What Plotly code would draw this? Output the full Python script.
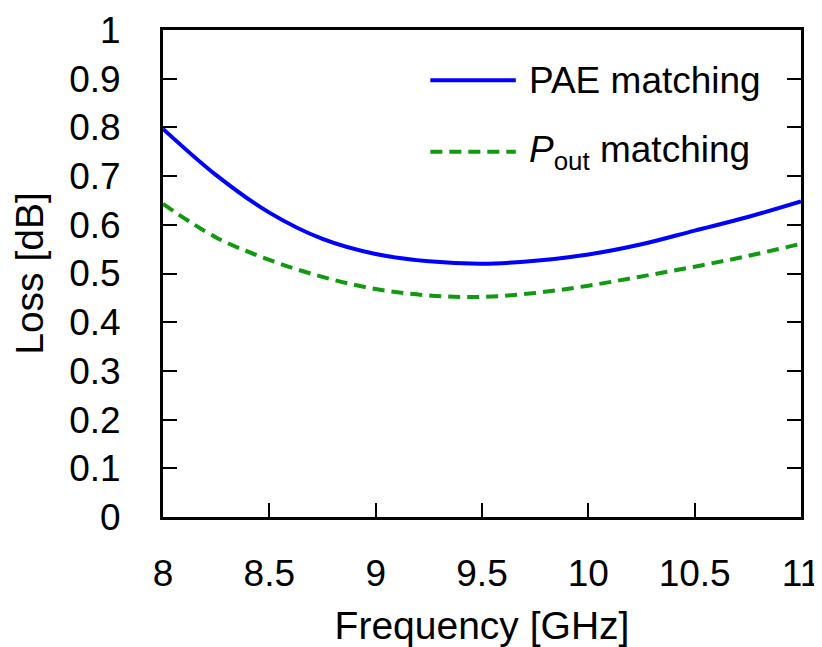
import plotly.graph_objects as go

freq = [8.0, 8.25, 8.5, 8.75, 9.0, 9.25, 9.5, 9.75, 10.0, 10.25, 10.5, 10.75, 11.0]
loss_pae = [0.797, 0.702, 0.625, 0.571, 0.540, 0.525, 0.520, 0.526, 0.539, 0.560, 0.588, 0.616, 0.648]
loss_pout = [0.643, 0.574, 0.528, 0.493, 0.468, 0.455, 0.452, 0.460, 0.475, 0.494, 0.514, 0.536, 0.561]

y_ticks = [0, 0.1, 0.2, 0.3, 0.4, 0.5, 0.6, 0.7, 0.8, 0.9, 1]
y_labels = ["0", "0.1", "0.2", "0.3", "0.4", "0.5", "0.6", "0.7", "0.8", "0.9", "1"]
x_ticks = [8, 8.5, 9, 9.5, 10, 10.5, 11]
x_labels = ["8", "8.5", "9", "9.5", "10", "10.5", "11"]

FONT = "Liberation Sans, Arial, sans-serif"
BLUE = "#0000ff"
GREEN = "#119a11"

fig = go.Figure()
fig.add_trace(go.Scatter(x=freq, y=loss_pae, mode="lines", name="PAE matching",
                         line=dict(color=BLUE, width=4, shape="spline", smoothing=1.0), showlegend=False))
fig.add_trace(go.Scatter(x=freq, y=loss_pout, mode="lines", name="P_out matching",
                         line=dict(color=GREEN, width=4, dash="12px,7px", shape="spline", smoothing=1.0),
                         showlegend=False))

# legend (manual)
legend_items = [("PAE matching", BLUE, "solid", 0.897),
                ("<i>P</i><sub>out</sub> matching", GREEN, "12px,7px", 0.750)]
for text, col, dash, yy in legend_items:
    fig.add_shape(type="line", xref="paper", yref="paper", x0=0.419, x1=0.553, y0=yy, y1=yy,
                  line=dict(color=col, width=4, dash=dash))
    fig.add_annotation(xref="paper", yref="paper", x=0.571, y=yy, text=text, showarrow=False,
                       xanchor="left", yanchor="middle", font=dict(family=FONT, size=37, color="black"))

fig.update_layout(
    width=814, height=639,
    margin=dict(l=155, r=21, t=22, b=130),
    paper_bgcolor="white", plot_bgcolor="white",
    font=dict(family=FONT, size=37, color="black"),
    showlegend=False,
)
fig.update_xaxes(range=[8, 11], tickvals=x_ticks, ticktext=x_labels,
                 showgrid=False, zeroline=False, automargin=False, ticklabeloverflow="allow",
                 showline=True, linecolor="black", linewidth=3, mirror=True,
                 ticks="inside", ticklen=14, tickwidth=2, tickcolor="black",
                 ticklabelstandoff=22,
                 title=dict(text="Frequency [GHz]", font=dict(size=39), standoff=20))
fig.update_yaxes(range=[0, 1], tickvals=y_ticks, ticktext=y_labels,
                 showgrid=False, zeroline=False, automargin=False, ticklabeloverflow="allow",
                 showline=True, linecolor="black", linewidth=3, mirror="ticks",
                 ticks="inside", ticklen=14, tickwidth=2, tickcolor="black",
                 ticklabelstandoff=32,
                 title=dict(text="Loss [dB]", font=dict(size=39), standoff=18))

fig.write_html("out.html")
